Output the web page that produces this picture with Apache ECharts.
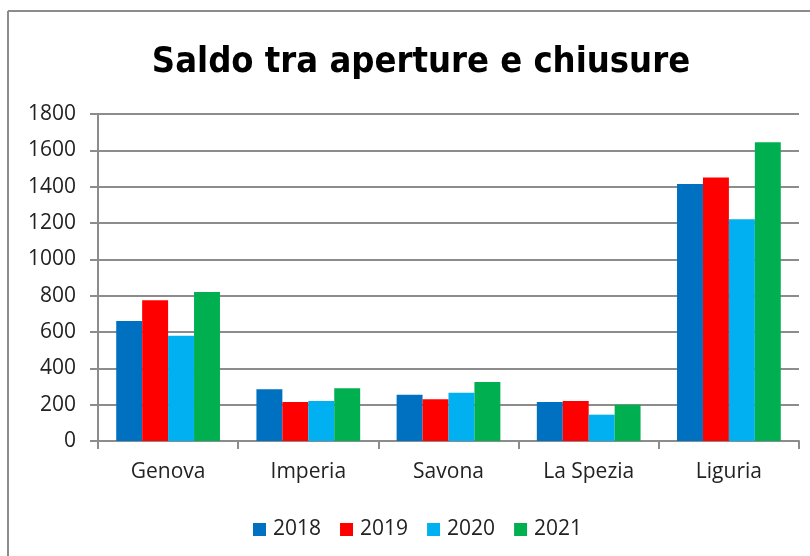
<!DOCTYPE html>
<html>
<head>
<meta charset="utf-8">
<script src="https://cdn.jsdelivr.net/npm/echarts@6/dist/echarts.min.js"></script>
<style>
  html, body { margin: 0; padding: 0; background: #fff; }
  #chart { width: 810px; height: 556px; }
</style>
</head>
<body>
<div id="chart"></div>
<script>
// dati
const categories = ['Genova', 'Imperia', 'Savona', 'La Spezia', 'Liguria'];
const years = ['2018', '2019', '2020', '2021'];
const values2018 = [660, 285, 255, 215, 1415];
const values2019 = [775, 215, 230, 220, 1450];
const values2020 = [580, 220, 265, 145, 1220];
const values2021 = [820, 290, 325, 200, 1645];
const colors = ['#0070C0', '#FF0000', '#00B0F0', '#00B050'];
const yTicks = { min: 0, max: 1800, interval: 200 };

const chart = echarts.init(document.getElementById('chart'));
const seriesData = [values2018, values2019, values2020, values2021];
const font = '"Open Sans", sans-serif';

const option = {
  animation: false,
  color: colors,
  title: {
    text: 'Saldo tra aperture e chiusure',
    left: 416,
    top: 40,
    textAlign: 'center',
    textStyle: {
      fontFamily: '"Liberation Sans Narrow", "DejaVu Sans Condensed", sans-serif',
      fontWeight: 'bold',
      fontSize: 36,
      color: '#000'
    }
  },
  legend: {
    data: years,
    left: 248,
    top: 514,
    icon: 'rect',
    itemWidth: 13,
    itemHeight: 13,
    itemGap: 19,
    textStyle: { fontFamily: font, fontSize: 21, color: '#222', padding: [0, 0, 0, 2] }
  },
  grid: { left: 98, right: 11, top: 114, bottom: 115 },
  xAxis: {
    type: 'category',
    data: categories,
    axisLine: { lineStyle: { color: '#8c8c8c', width: 2 } },
    axisTick: { show: true, length: 8, lineStyle: { color: '#8c8c8c', width: 2 } },
    axisLabel: { margin: 21, fontFamily: font, fontSize: 21, color: '#222' }
  },
  yAxis: {
    type: 'value',
    min: yTicks.min,
    max: yTicks.max,
    interval: yTicks.interval,
    axisLine: { show: true, lineStyle: { color: '#8c8c8c', width: 2 } },
    axisTick: { show: true, length: 8, lineStyle: { color: '#8c8c8c', width: 2 } },
    splitLine: { lineStyle: { color: '#8c8c8c', width: 2 } },
    axisLabel: { margin: 22, fontFamily: font, fontSize: 21, color: '#222', formatter: v => String(v) }
  },
  graphic: [
    { type: 'line', shape: { x1: 8, y1: 11, x2: 810, y2: 11 }, style: { stroke: '#8c8c8c', lineWidth: 2 } },
    { type: 'line', shape: { x1: 8, y1: 11, x2: 8, y2: 556 }, style: { stroke: '#8c8c8c', lineWidth: 2 } }
  ],
  series: years.map((y, i) => ({
    name: y,
    type: 'bar',
    data: seriesData[i],
    barGap: '0%',
    barCategoryGap: '26%',
    itemStyle: { color: colors[i] }
  }))
};

chart.setOption(option);
</script>
</body>
</html>
